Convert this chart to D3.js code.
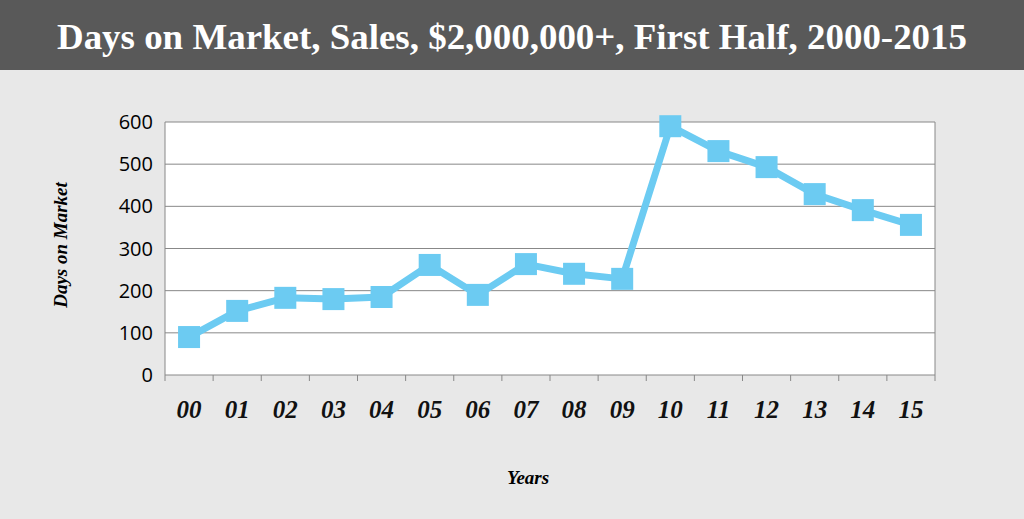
<!DOCTYPE html>
<html>
<head>
<meta charset="utf-8">
<script src="https://cdn.jsdelivr.net/npm/d3@7"></script>
<style>
  body { margin: 0; background: #e8e8e8; }
  svg { display: block; }
</style>
</head>
<body>
<div id="chart"></div>
<script>
const years = ["00","01","02","03","04","05","06","07","08","09","10","11","12","13","14","15"];
const daysOnMarket = [90, 152, 183, 180, 185, 261, 190, 263, 240, 228, 590, 531, 493, 429, 391, 356];
const yTicks = [0, 100, 200, 300, 400, 500, 600];

const width = 1024, height = 519;
const plot = { left: 165, right: 935, top: 122, bottom: 375 };

const svg = d3.select("#chart").append("svg")
    .attr("width", width)
    .attr("height", height);

svg.append("rect").attr("width", width).attr("height", height).attr("fill", "#e8e8e8");

// title bar
svg.append("rect").attr("width", width).attr("height", 70).attr("fill", "#595959");
svg.append("text")
    .attr("x", width / 2).attr("y", 49)
    .attr("text-anchor", "middle")
    .attr("fill", "#fff")
    .style("font-family", "'Liberation Serif', serif")
    .style("font-size", "35px")
    .style("font-weight", "bold")
    .attr("textLength", 910)
    .attr("lengthAdjust", "spacingAndGlyphs")
    .text("Days on Market, Sales, $2,000,000+, First Half, 2000-2015");

const x = d3.scaleBand().domain(years).range([plot.left, plot.right]);
const y = d3.scaleLinear().domain([0, 600]).range([plot.bottom, plot.top]);

svg.append("rect")
    .attr("x", plot.left).attr("y", plot.top)
    .attr("width", plot.right - plot.left).attr("height", plot.bottom - plot.top)
    .attr("fill", "#fff");

// gridlines
svg.append("g").selectAll("line").data(yTicks).join("line")
    .attr("x1", plot.left).attr("x2", plot.right)
    .attr("y1", d => y(d)).attr("y2", d => y(d))
    .attr("stroke", "#888").attr("stroke-width", 1);

svg.append("line")
    .attr("x1", plot.left).attr("x2", plot.left)
    .attr("y1", plot.top).attr("y2", plot.bottom)
    .attr("stroke", "#888");
svg.append("line")
    .attr("x1", plot.right).attr("x2", plot.right)
    .attr("y1", plot.top).attr("y2", plot.bottom)
    .attr("stroke", "#888");

// x tick marks at band edges
const edges = years.map(d => x(d)).concat([plot.right]);
svg.append("g").selectAll("line").data(edges).join("line")
    .attr("x1", d => d).attr("x2", d => d)
    .attr("y1", plot.bottom).attr("y2", plot.bottom + 6)
    .attr("stroke", "#888");

// y labels
svg.append("g").selectAll("text").data(yTicks).join("text")
    .attr("x", plot.left - 12).attr("y", d => y(d) + 7)
    .attr("text-anchor", "end")
    .style("font-family", "'Open Sans', sans-serif")
    .style("font-size", "20px")
    .attr("fill", "#000")
    .text(d => d);

// x labels
svg.append("g").selectAll("text").data(years).join("text")
    .attr("x", d => x(d) + x.bandwidth() / 2).attr("y", 418)
    .attr("text-anchor", "middle")
    .style("font-family", "'Liberation Serif', serif")
    .style("font-size", "25px")
    .style("font-weight", "bold")
    .style("font-style", "italic")
    .attr("fill", "#111")
    .text(d => d);

svg.append("text")
    .attr("x", 528).attr("y", 484)
    .attr("text-anchor", "middle")
    .style("font-family", "'Liberation Serif', serif")
    .style("font-size", "19px")
    .style("font-weight", "bold")
    .style("font-style", "italic")
    .text("Years");

svg.append("text")
    .attr("transform", "translate(67,245) rotate(-90)")
    .attr("text-anchor", "middle")
    .style("font-family", "'Liberation Serif', serif")
    .style("font-size", "19px")
    .style("font-weight", "bold")
    .style("font-style", "italic")
    .text("Days on Market");

// line
const pts = years.map((d, i) => [x(d) + x.bandwidth() / 2, y(daysOnMarket[i])]);
svg.append("path")
    .attr("d", d3.line()(pts))
    .attr("fill", "none")
    .attr("stroke", "#6ccbf2")
    .attr("stroke-width", 7)
    .attr("stroke-linejoin", "round");

svg.append("g").selectAll("rect").data(pts).join("rect")
    .attr("x", d => d[0] - 11).attr("y", d => d[1] - 11)
    .attr("width", 22).attr("height", 22)
    .attr("fill", "#6ccbf2");
</script>
</body>
</html>
